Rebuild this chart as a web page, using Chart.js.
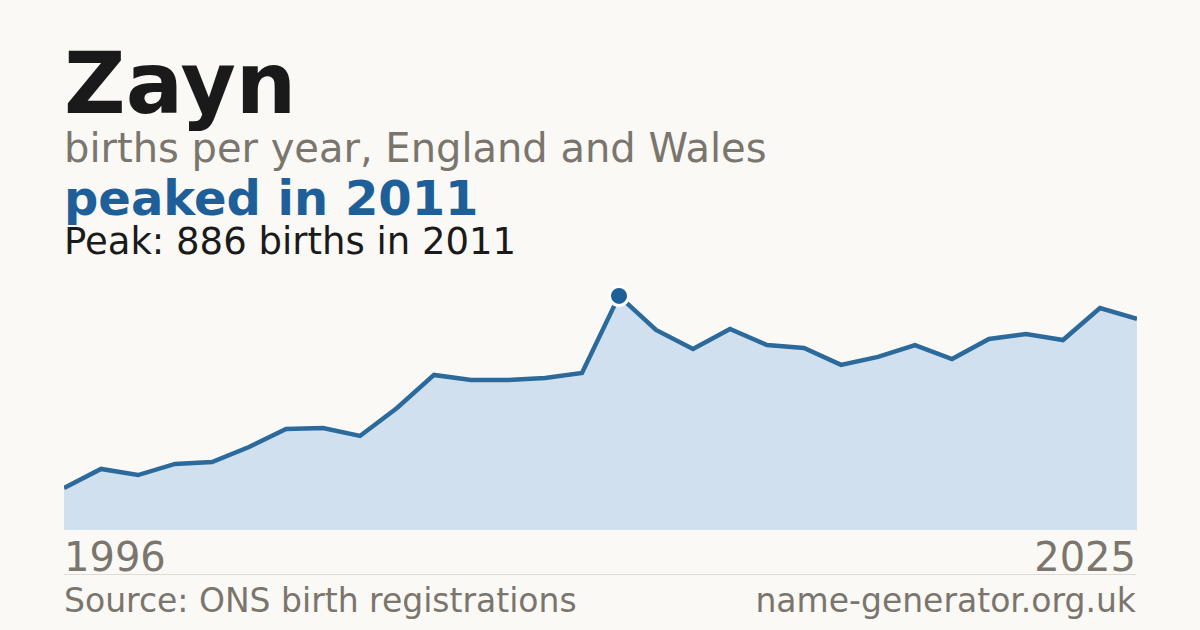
<!DOCTYPE html>
<html>
<head>
<meta charset="utf-8">
<script src="https://cdn.jsdelivr.net/npm/chart.js@4"></script>
<style>
  html, body { margin: 0; padding: 0; }
  body {
    width: 1200px; height: 630px; overflow: hidden;
    background: #faf9f5; position: relative;
    font-family: "DejaVu Sans", sans-serif;
  }
  .t { position: absolute; left: 64px; line-height: 1; white-space: nowrap; }
  #title { top: 41px; font-size: 85px; font-weight: bold; color: #1a1a1a; }
  #sub { top: 128px; font-size: 40px; color: #7a756d; }
  #headline { top: 174px; font-size: 48px; font-weight: bold; color: #1f5f99; }
  #peak { top: 223px; font-size: 37px; color: #1a1a1a; }
  .year { top: 537px; font-size: 40px; color: #7a756d; }
  #yearEnd { left: auto; right: 64px; }
  #rule { position: absolute; left: 64px; width: 1072px; top: 574px; height: 1px; background: #dedbd4; }
  .foot { top: 584px; font-size: 33px; color: #7a756d; }
  #site { left: auto; right: 64px; }
  #wrap { position: absolute; left: 64px; top: 270px; width: 1073px; height: 260px; }
</style>
</head>
<body>
<div class="t" id="title">Zayn</div>
<div class="t" id="sub">births per year, England and Wales</div>
<div class="t" id="headline">peaked in 2011</div>
<div class="t" id="peak">Peak: 886 births in 2011</div>
<div id="wrap"><canvas id="chart"></canvas></div>
<div class="t year" id="yearStart"></div>
<div class="t year" id="yearEnd"></div>
<div id="rule"></div>
<div class="t foot">Source: ONS birth registrations</div>
<div class="t foot" id="site">name-generator.org.uk</div>

<script>
/* data */
const years = [1996, 1997, 1998, 1999, 2000, 2001, 2002, 2003, 2004, 2005,
               2006, 2007, 2008, 2009, 2010, 2011, 2012, 2013, 2014, 2015,
               2016, 2017, 2018, 2019, 2020, 2021, 2022, 2023, 2024, 2025];
const births = [159, 231, 208, 250, 257, 314, 382, 386, 356, 462,
                587, 568, 568, 575, 594, 886, 757, 685, 761, 700,
                689, 625, 655, 700, 647, 723, 742, 719, 840, 799];
const peakYear = 2011;

const lineColor = "#2c6a9c";
const peakIndex = years.indexOf(peakYear);

document.getElementById("yearStart").textContent = years[0];
document.getElementById("yearEnd").textContent = years[years.length - 1];

new Chart(document.getElementById("chart"), {
  type: "line",
  data: {
    labels: years,
    datasets: [{
      data: births,
      borderColor: lineColor,
      borderWidth: 4.5,
      backgroundColor: "#d0e0ef",
      fill: "origin",
      tension: 0,
      clip: false,
      pointRadius: births.map((v, i) => i === peakIndex ? 9.5 : 0),
      pointBackgroundColor: "#1f5f99",
      pointBorderColor: "#ffffff",
      pointBorderWidth: 3,
      pointHoverRadius: 0
    }]
  },
  options: {
    responsive: true,
    maintainAspectRatio: false,
    animation: false,
    layout: { padding: 0 },
    plugins: { legend: { display: false }, tooltip: { enabled: false } },
    scales: {
      x: { display: false, offset: false },
      y: { display: false, min: 0, max: 984 }
    }
  }
});
</script>
</body>
</html>
